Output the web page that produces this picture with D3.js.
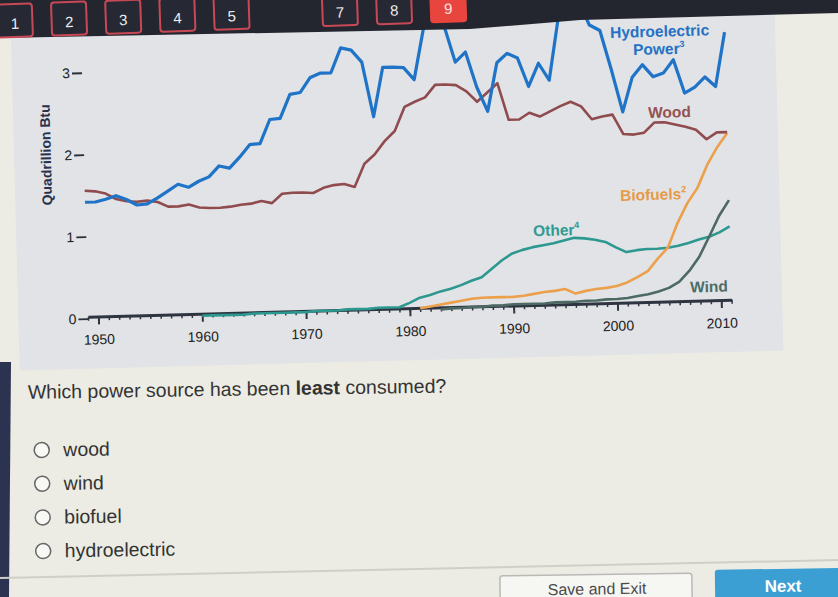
<!DOCTYPE html>
<html><head><meta charset="utf-8">
<script src="https://cdn.jsdelivr.net/npm/d3@7"></script>
<style>
html,body{margin:0;padding:0;background:#ecebe4;overflow:hidden;}
svg{display:block;font-family:"Liberation Sans",Arial,Helvetica,sans-serif;}
</style></head><body>
<svg id="c" width="838" height="597"></svg>
<script>
// ---------------- data ----------------
const navButtons = [1, 2, 3, 4, 5, 7, 8, 9];
const activeButton = 9;
const xTickYears = [1950, 1960, 1970, 1980, 1990, 2000, 2010];
const yTicks = [0, 1, 2, 3];
const axisTitle = "Quadrillion Btu";

const hydroStart = 1949;
const hydro = [1.42,1.42,1.45,1.49,1.44,1.37,1.38,1.45,1.53,1.61,
               1.57,1.64,1.69,1.82,1.79,1.92,2.07,2.08,2.37,2.38,
               2.67,2.69,2.87,2.92,2.92,3.22,3.19,3.04,2.37,2.97,
               2.97,2.96,2.81,3.42,3.62,3.46,3.01,3.13,2.70,2.40,
               2.99,3.10,3.04,2.69,2.97,2.76,3.50,3.66,3.72,3.42,
               3.35,2.87,2.35,2.77,2.92,2.77,2.81,2.97,2.56,2.63,
               2.75,2.63,3.29];
const woodStart = 1949;
const wood = [1.56,1.55,1.52,1.45,1.42,1.41,1.42,1.40,1.34,1.34,
              1.36,1.32,1.31,1.31,1.32,1.34,1.35,1.38,1.35,1.46,
              1.47,1.47,1.46,1.52,1.55,1.56,1.52,1.80,1.91,2.07,
              2.19,2.48,2.54,2.59,2.74,2.74,2.73,2.65,2.52,2.63,
              2.74,2.29,2.29,2.37,2.32,2.38,2.44,2.49,2.43,2.27,
              2.30,2.32,2.08,2.07,2.09,2.21,2.21,2.18,2.15,2.11,
              1.99,2.07,2.07];
const biofuelsStart = 1981;
const biofuels = [0.02,0.04,0.06,0.08,0.10,0.12,0.13,0.13,0.13,0.13,
                  0.14,0.16,0.18,0.19,0.21,0.15,0.18,0.20,0.21,0.23,
                  0.27,0.33,0.40,0.55,0.68,0.98,1.22,1.40,1.68,1.89,
                  2.06];
const windStart = 1983;
const wind = [0.00,0.01,0.01,0.02,0.02,0.03,0.03,0.04,0.04,0.04,
              0.04,0.05,0.05,0.05,0.06,0.06,0.07,0.07,0.08,0.10,
              0.12,0.15,0.19,0.26,0.39,0.56,0.80,1.05,1.24];
const otherStart = 1960;
const other = [0.00,0.00,0.00,0.00,0.00,0.01,0.01,0.01,0.01,0.01,
               0.01,0.02,0.02,0.02,0.03,0.03,0.03,0.04,0.04,0.04,
               0.09,0.15,0.18,0.22,0.25,0.29,0.34,0.38,0.48,0.58,
               0.66,0.70,0.73,0.75,0.77,0.80,0.83,0.82,0.80,0.77,
               0.70,0.64,0.66,0.67,0.67,0.68,0.70,0.73,0.77,0.80,
               0.85,0.92];

const questionParts = [["Which power source has been ", false], ["least", true], [" consumed?", false]];
const options = ["wood", "wind", "biofuel", "hydroelectric"];
const saveLabel = "Save and Exit";
const nextLabel = "Next";

// ---------------- drawing ----------------
const svg = d3.select("#c");
svg.append("rect").attr("width", 838).attr("height", 597).attr("fill", "#ecebe4");

// chart (photo is slightly tilted)
const g = svg.append("g").attr("transform", "rotate(-1.5,419,298)");
g.append("rect").attr("x", 18).attr("y", 16).attr("width", 764).attr("height", 344).attr("fill", "#e1e3e6");

const x = d3.scaleLinear().domain([1949, 2011]).range([87.6, 731.4]);
const y = d3.scaleLinear().domain([0, 3]).range([310, 64]);

// y axis
const ya = g.append("g").attr("transform", "translate(88,0)")
  .call(d3.axisLeft(y).tickValues(yTicks).tickSize(10).tickPadding(2).tickFormat(d3.format("d")));
ya.select(".domain").remove();
ya.selectAll(".tick line").attr("stroke", "#2b2f38").attr("stroke-width", 1.8);
ya.selectAll(".tick text").attr("font-size", 14).attr("fill", "#222").attr("font-family", "Liberation Sans, Arial, sans-serif");

g.append("text")
  .attr("transform", "translate(54.7,145.2) rotate(-90)")
  .attr("text-anchor", "middle").attr("font-size", 14).attr("font-weight", "bold")
  .attr("fill", "#27314d").text(axisTitle);

// x axis: yearly minor ticks + decade majors
const years = d3.range(1949, 2012);
const xMinor = g.append("g").attr("transform", "translate(0,308)")
  .call(d3.axisBottom(x).tickValues(years).tickSize(4).tickSizeOuter(0).tickFormat(""));
xMinor.select(".domain").remove();
xMinor.selectAll(".tick line").attr("stroke", "#2f3540").attr("stroke-width", 1.5);

const xMajor = g.append("g").attr("transform", "translate(0,308)")
  .call(d3.axisBottom(x).tickValues(xTickYears).tickSize(8).tickSizeOuter(0).tickPadding(10).tickFormat(d3.format("d")));
xMajor.select(".domain").attr("stroke", "#2f3540").attr("stroke-width", 3);
xMajor.selectAll(".tick line").attr("stroke", "#2f3540").attr("stroke-width", 2);
xMajor.selectAll(".tick text").attr("font-size", 14).attr("fill", "#222").attr("font-family", "Liberation Sans, Arial, sans-serif");

// series
function pts(start, arr) { return arr.map((v, i) => [start + i, v]); }
const line = d3.line().x(d => x(d[0])).y(d => y(d[1]));
const series = [
  {data: pts(otherStart, other), color: "#2c9890", w: 2.6},
  {data: pts(windStart, wind), color: "#4c6963", w: 2.6},
  {data: pts(biofuelsStart, biofuels), color: "#eca04c", w: 2.6},
  {data: pts(woodStart, wood), color: "#8f4b4d", w: 2.6},
  {data: pts(hydroStart, hydro), color: "#1f74c8", w: 3.2}
];
g.selectAll("path.series").data(series).enter().append("path")
  .attr("class", "series").attr("fill", "none")
  .attr("stroke", d => d.color).attr("stroke-width", d => d.w)
  .attr("stroke-linejoin", "round").attr("d", d => line(d.data));

// series labels
function label(txt, sup, lx, ly, color) {
  const t = g.append("text").attr("x", lx).attr("y", ly).attr("font-size", 15.5)
    .attr("font-weight", "bold").attr("fill", color).text(txt);
  if (sup) t.append("tspan").attr("font-size", 9).attr("dy", -7).text(sup);
}
label("Hydroelectric", null, 617, 43, "#2471c4");
label("Power", "3", 639.5, 60.8, "#2471c4");
label("Wood", null, 652.9, 124.2, "#955252");
label("Biofuels", "2", 622.7, 206.2, "#e69a47");
label("Other", "4", 534.8, 239.2, "#2f9a93");
label("Wind", null, 690.3, 299.7, "#4e6c66");

// top navigation bar
svg.append("path").attr("d", "M0,0H838V13L580,20L470,29L0,38Z").attr("fill", "#23262f");
const nav = svg.append("g").attr("transform", "rotate(-2,419,298)");
navButtons.forEach(n => {
  const cx = 24.8 + 54.2 * (n - 1);
  const active = n === activeButton;
  nav.append("rect").attr("x", cx - 17.5).attr("y", -10).attr("width", 35).attr("height", 33).attr("rx", 3)
    .attr("fill", active ? "#e8453f" : "#262934")
    .attr("stroke", active ? "#e8453f" : "#c84955").attr("stroke-width", 2);
  nav.append("text").attr("x", cx).attr("y", 15).attr("text-anchor", "middle")
    .attr("font-size", 15).attr("fill", active ? "#fbe3e1" : "#eeeeee").text(n);
});

// left dark edge
svg.append("path").attr("d", "M0,362H11L9,597H0Z").attr("fill", "#2b3350");

// question
const q = svg.append("g").attr("transform", "rotate(-0.85,419,298)");
const qt = q.append("text").attr("x", 26.5).attr("y", 393).attr("font-size", 19.5).attr("fill", "#333");
questionParts.forEach(p => qt.append("tspan").attr("font-weight", p[1] ? "bold" : "normal").text(p[0]));
options.forEach((o, i) => {
  const cy = 444.4 + i * 33.7;
  q.append("circle").attr("cx", 39.5).attr("cy", cy).attr("r", 7.5)
    .attr("fill", "#f8f8f5").attr("stroke", "#666").attr("stroke-width", 1.5);
  q.append("text").attr("x", 61).attr("y", cy + 6.5).attr("font-size", 19.5).attr("fill", "#333").text(o);
});

// bottom divider and buttons
svg.append("line").attr("x1", 0).attr("y1", 578).attr("x2", 838).attr("y2", 560)
  .attr("stroke", "#cfcfc9").attr("stroke-width", 2);
const b = svg.append("g").attr("transform", "rotate(-0.8,700,585)");
b.append("rect").attr("x", 500).attr("y", 573).attr("width", 192).attr("height", 40).attr("rx", 3)
  .attr("fill", "#f6f6f3").attr("stroke", "#b9b9b6").attr("stroke-width", 1.5);
b.append("text").attr("x", 597).attr("y", 593).attr("text-anchor", "middle").attr("font-size", 16)
  .attr("fill", "#4a4a4a").text(saveLabel);
b.append("rect").attr("x", 715).attr("y", 570).attr("width", 140).attr("height", 40).attr("rx", 3)
  .attr("fill", "#3b9fd4");
b.append("text").attr("x", 783).attr("y", 593).attr("text-anchor", "middle").attr("font-size", 17)
  .attr("font-weight", "bold").attr("fill", "#ffffff").text(nextLabel);
</script>
</body></html>
